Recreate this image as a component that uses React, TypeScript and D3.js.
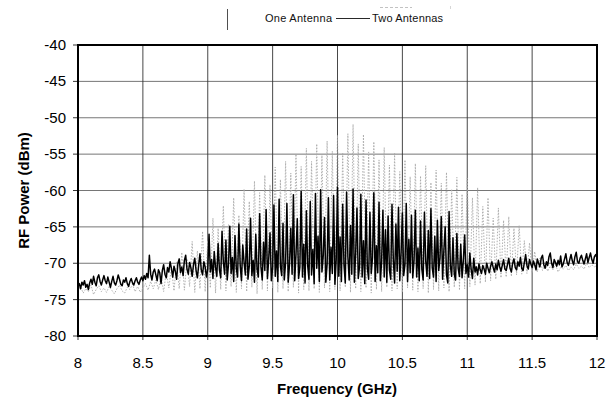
import React from "react";
import * as d3 from "d3";

const xTicks = [8, 8.5, 9, 9.5, 10, 10.5, 11, 11.5, 12];
const yTicks = [-40, -45, -50, -55, -60, -65, -70, -75, -80];

// Two Antennas: 8.00 .. 12.00 GHz, step 0.01
const twoStart = 8.0;
const twoStep = 0.01;
const twoAntennas = [
  -73.2,-72.8,-73.5,-72.6,-73.0,-72.4,-73.3,-72.9,-73.6,-72.7,
  -72.2,-72.9,-71.8,-72.6,-73.1,-72.0,-71.6,-72.5,-73.0,-72.3,
  -71.7,-72.4,-72.8,-71.9,-72.6,-73.3,-72.5,-71.8,-72.7,-73.0,
  -72.4,-71.6,-72.2,-72.9,-73.1,-72.3,-72.6,-72.0,-72.8,-73.2,
  -72.5,-72.1,-72.7,-73.0,-72.4,-72.0,-72.6,-72.9,-72.3,-71.9,
  -72.4,-71.7,-72.2,-71.4,-72.0,-68.9,-71.5,-72.3,-71.2,-70.8,
  -71.6,-72.4,-70.9,-71.3,-72.8,-71.0,-70.2,-71.5,-72.0,-70.6,
  -71.2,-69.8,-70.7,-71.9,-70.4,-71.1,-72.2,-70.0,-69.4,-71.3,
  -70.5,-71.7,-69.6,-68.9,-70.8,-71.5,-69.9,-70.6,-71.8,-70.2,
  -69.3,-71.0,-72.0,-70.3,-68.7,-70.9,-71.6,-69.8,-70.5,-71.9,
  -70.8,-66.0,-71.2,-69.5,-72.1,-68.4,-70.6,-71.8,-67.3,-70.9,
  -72.0,-65.6,-69.8,-71.5,-66.8,-72.3,-70.1,-64.9,-71.4,-69.2,
  -72.5,-66.2,-70.7,-71.9,-64.6,-70.3,-72.4,-67.5,-69.9,-71.6,
  -65.3,-72.2,-70.4,-63.8,-71.7,-69.6,-72.6,-66.0,-70.8,-71.9,
  -63.2,-70.5,-72.3,-67.1,-71.0,-62.6,-72.1,-69.4,-65.8,-72.4,
  -70.6,-62.0,-71.8,-68.3,-72.5,-61.2,-70.4,-71.7,-64.5,-72.3,
  -69.9,-61.8,-72.6,-70.2,-65.2,-71.5,-60.6,-72.4,-68.8,-63.9,
  -72.1,-70.5,-60.1,-71.9,-67.4,-72.7,-62.8,-70.3,-72.2,-61.5,
  -71.6,-68.1,-72.8,-60.4,-70.7,-66.3,-72.5,-59.9,-71.2,-69.0,
  -63.7,-72.6,-70.1,-61.0,-72.3,-67.8,-71.4,-60.7,-72.9,-69.5,
  -59.6,-71.8,-66.4,-72.5,-61.9,-70.2,-72.7,-60.2,-69.1,-72.3,
  -64.8,-71.5,-59.8,-72.6,-68.7,-62.4,-72.1,-70.4,-60.5,-71.9,
  -66.9,-72.8,-61.3,-70.6,-72.2,-63.0,-71.4,-69.2,-60.3,-72.5,
  -67.6,-71.3,-61.6,-72.4,-69.8,-62.7,-71.9,-65.4,-72.6,-63.5,
  -70.9,-72.2,-61.9,-69.4,-72.7,-64.6,-71.1,-62.3,-72.4,-68.5,
  -63.1,-71.7,-70.2,-61.8,-72.5,-66.7,-71.3,-63.4,-72.0,-69.6,
  -62.7,-71.9,-67.9,-72.4,-64.2,-70.8,-72.3,-63.0,-69.7,-71.8,
  -65.5,-72.1,-62.5,-70.6,-71.9,-66.3,-72.5,-64.1,-71.0,-69.3,
  -63.6,-72.2,-68.2,-65.0,-71.6,-72.7,-62.9,-70.4,-71.8,-66.5,
  -71.5,-72.3,-65.9,-70.7,-71.8,-67.4,-72.0,-69.6,-66.1,-71.4,
  -70.2,-71.9,-68.6,-70.8,-72.1,-69.3,-71.2,-70.5,-71.6,-70.1,
  -70.9,-71.4,-70.3,-70.8,-71.5,-70.0,-70.7,-71.3,-70.4,-69.8,
  -70.6,-71.2,-70.1,-70.9,-69.6,-70.5,-71.1,-70.3,-69.5,-70.8,
  -71.0,-70.2,-69.3,-70.7,-71.2,-70.0,-69.4,-70.6,-70.9,-69.8,
  -70.4,-69.2,-70.7,-71.0,-69.9,-68.8,-70.3,-70.8,-69.5,-70.1,
  -70.6,-69.7,-70.2,-70.9,-69.4,-70.0,-70.5,-69.3,-68.9,-70.2,
  -70.7,-69.8,-70.3,-69.1,-68.6,-70.0,-70.6,-69.5,-69.9,-70.4,
  -69.6,-70.2,-69.0,-70.5,-70.1,-69.4,-68.7,-69.9,-70.3,-69.5,
  -68.8,-69.7,-70.2,-69.1,-68.5,-69.8,-70.0,-69.3,-68.9,-69.6,
  -70.1,-69.4,-68.7,-69.9,-69.2,-68.6,-69.5,-70.0,-69.1,-68.8,
  -69.3,
];

// One Antenna: 8.00 .. 12.00 GHz, step 0.02
const oneStart = 8.0;
const oneStep = 0.02;
const oneAntenna = [
  -73.8,-73.2,-74.1,-73.5,-73.9,-73.0,-74.3,-73.6,-73.1,-73.9,
  -73.4,-74.0,-73.2,-73.7,-74.2,-73.5,-73.0,-73.8,-74.1,-73.3,
  -73.6,-72.9,-73.9,-73.2,-74.0,-73.4,-72.8,-73.7,-72.5,-73.5,
  -72.3,-73.6,-71.8,-73.9,-71.2,-73.4,-70.6,-73.8,-69.8,-73.5,
  -68.5,-73.7,-69.4,-73.2,-67.0,-74.0,-68.3,-73.5,-65.6,-73.9,
  -66.9,-73.4,-63.8,-74.1,-65.2,-73.6,-62.1,-73.8,-64.7,-73.2,
  -61.0,-74.0,-63.4,-73.5,-59.8,-73.9,-61.5,-73.3,-58.7,-74.2,
  -60.3,-73.6,-57.9,-73.8,-59.2,-73.4,-56.8,-74.0,-58.5,-73.5,
  -56.0,-73.9,-57.6,-73.3,-55.0,-74.1,-56.7,-73.6,-54.2,-73.8,
  -56.0,-73.5,-53.6,-74.0,-55.0,-73.4,-53.2,-73.9,-54.6,-73.6,
  -52.4,-73.8,-54.9,-73.3,-52.2,-74.0,-50.9,-73.5,-53.6,-73.9,
  -52.3,-73.4,-54.7,-74.1,-53.3,-73.6,-55.8,-73.9,-54.1,-73.3,
  -56.5,-73.8,-54.9,-73.5,-57.4,-74.0,-55.8,-73.4,-58.1,-73.7,
  -56.3,-73.9,-58.0,-73.5,-56.6,-74.1,-58.9,-73.6,-57.2,-73.8,
  -59.0,-73.4,-57.5,-73.9,-59.8,-73.3,-58.2,-73.7,-60.5,-73.5,
  -58.3,-73.2,-61.0,-73.0,-59.6,-72.8,-62.2,-72.6,-61.0,-72.4,
  -63.8,-72.2,-62.4,-72.0,-64.1,-71.9,-63.6,-71.8,-65.2,-71.6,
  -64.8,-71.5,-66.9,-71.4,-67.2,-71.3,-68.4,-71.2,-69.3,-71.0,
  -70.0,-71.1,-70.4,-70.9,-70.2,-71.2,-70.6,-70.8,-70.3,-71.0,
  -70.5,-70.9,-70.1,-70.7,-70.4,-70.8,-70.0,-70.6,-70.2,-70.5,
  -70.3,
];

const W = 610;
const H = 403;
const left = 78;
const right = 597;
const top = 45;
const bottom = 336;
const font = "Liberation Sans, Arial, sans-serif";

export default function App() {
  const x = d3.scaleLinear().domain([8, 12]).range([left, right]);
  const y = d3.scaleLinear().domain([-80, -40]).range([bottom, top]);

  const twoPts: [number, number][] = twoAntennas.map((v, i) => [twoStart + i * twoStep, v]);
  const onePts: [number, number][] = oneAntenna.map((v, i) => [oneStart + i * oneStep, v]);
  const line = d3
    .line<[number, number]>()
    .x((d) => x(d[0]))
    .y((d) => y(d[1]));

  return (
    <svg
      width={W}
      height={H}
      style={{ position: "absolute", left: 0, top: 0, background: "#fff" }}
      fontFamily={font}
    >
      <rect x={0} y={0} width={W} height={H} fill="#fff" />
      {/* legend */}
      <line x1={227.5} x2={227.5} y1={9} y2={30} stroke="#222" strokeWidth={0.8} />
      <line x1={380} x2={412} y1={7.5} y2={7.5} stroke="#999" strokeWidth={0.6} strokeDasharray="3,2" />
      <line x1={450.5} x2={450.5} y1={6} y2={9} stroke="#bbb" strokeWidth={0.6} />
      <text x={265} y={22} fontSize={11} textLength={67} lengthAdjust="spacing" fill="#111">
        One Antenna
      </text>
      <line x1={336} x2={370} y1={18.5} y2={18.5} stroke="#111" strokeWidth={0.9} />
      <text x={372} y={22} fontSize={11} textLength={71} lengthAdjust="spacing" fill="#111">
        Two Antennas
      </text>

      {/* grid */}
      {yTicks.map((t) => (
        <line key={"hy" + t} x1={left} x2={right} y1={y(t)} y2={y(t)} stroke="#666" strokeWidth={0.9} />
      ))}
      {xTicks.map((t) => (
        <line key={"vx" + t} x1={x(t)} x2={x(t)} y1={top} y2={bottom} stroke="#333" strokeWidth={0.9} />
      ))}

      {/* series */}
      <path
        d={line(onePts) || ""}
        fill="none"
        stroke="#a8a8a8"
        strokeWidth={0.9}
        strokeDasharray="1.5,1.5"
      />
      <path d={line(twoPts) || ""} fill="none" stroke="#000" strokeWidth={1.5} strokeLinejoin="round" />

      {/* frame */}
      <rect x={left} y={top} width={right - left} height={bottom - top} fill="none" stroke="#000" strokeWidth={2} />

      {/* ticks */}
      {yTicks.map((t) => (
        <g key={"yt" + t}>
          <line x1={left - 5} x2={left} y1={y(t)} y2={y(t)} stroke="#000" strokeWidth={0.8} />
          <text x={66} y={y(t) + 5} fontSize={15} textAnchor="end" fill="#000">
            {t}
          </text>
        </g>
      ))}
      {xTicks.map((t) => (
        <g key={"xt" + t}>
          <line x1={x(t)} x2={x(t)} y1={bottom} y2={bottom + 4} stroke="#000" strokeWidth={0.8} />
          <text x={x(t)} y={368} fontSize={15} textAnchor="middle" fill="#000">
            {t}
          </text>
        </g>
      ))}

      {/* axis titles */}
      <text x={337} y={394} fontSize={15} fontWeight="bold" textAnchor="middle" fill="#000">
        Frequency (GHz)
      </text>
      <text
        transform={`translate(29, ${(top + bottom) / 2}) rotate(-90)`}
        fontSize={15}
        fontWeight="bold"
        textAnchor="middle"
        fill="#000"
      >
        RF Power (dBm)
      </text>
    </svg>
  );
}
